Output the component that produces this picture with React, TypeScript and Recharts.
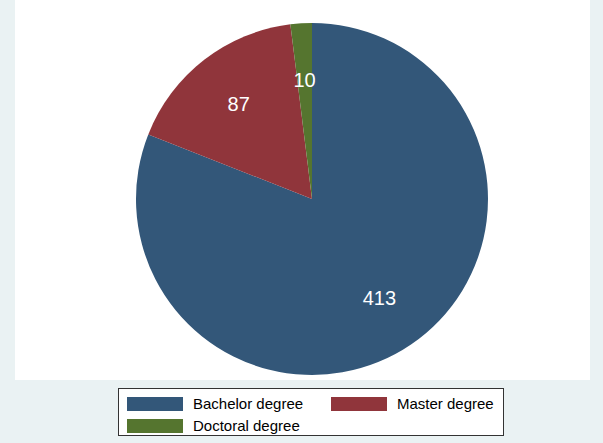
import { PieChart, Pie, Cell } from "recharts";

const categories = ["Bachelor degree", "Master degree", "Doctoral degree"];
const values = [413, 87, 10];
const colors = ["#335779", "#90353b", "#55752f"];

const data = categories.map((name, i) => ({ name, value: values[i] }));

const RAD = Math.PI / 180;
const renderLabel = (p: any) => {
  const r = p.outerRadius * 0.68;
  const x = p.cx + r * Math.cos(-p.midAngle * RAD);
  const y = p.cy + r * Math.sin(-p.midAngle * RAD);
  return (
    <text x={x} y={y} fill="#ffffff" fontSize={20} textAnchor="middle" dominantBaseline="central" fontFamily="Liberation Sans, Arial, sans-serif">
      {p.value}
    </text>
  );
};

const legendPos = [
  { left: 8, top: 6 },
  { left: 212, top: 6 },
  { left: 8, top: 28 },
];

export default function App() {
  return (
    <div style={{ position: "absolute", left: 0, top: 0, width: 603, height: 443, background: "#eaf2f3", fontFamily: "Liberation Sans, Arial, sans-serif" }}>
      <div style={{ position: "absolute", left: 15, top: 0, width: 575, height: 380, background: "#ffffff" }}>
        <PieChart width={575} height={380}>
          <Pie
            data={data}
            dataKey="value"
            cx={292}
            cy={194}
            outerRadius={176}
            startAngle={90}
            endAngle={-270}
            stroke="none"
            label={renderLabel}
            labelLine={false}
            isAnimationActive={false}
          >
            {data.map((d, i) => (
              <Cell key={d.name} fill={colors[i]} />
            ))}
          </Pie>
        </PieChart>
      </div>
      <div style={{ position: "absolute", left: 118, top: 388, width: 386, height: 48, background: "#ffffff", border: "1px solid #333", boxSizing: "border-box" }}>
        {categories.map((c, i) => (
          <div key={c} style={{ position: "absolute", left: legendPos[i].left, top: legendPos[i].top, display: "flex", alignItems: "center", fontSize: 15, color: "#000" }}>
            <div style={{ width: 56, height: 14, background: colors[i], marginRight: 10 }} />
            {c}
          </div>
        ))}
      </div>
    </div>
  );
}
